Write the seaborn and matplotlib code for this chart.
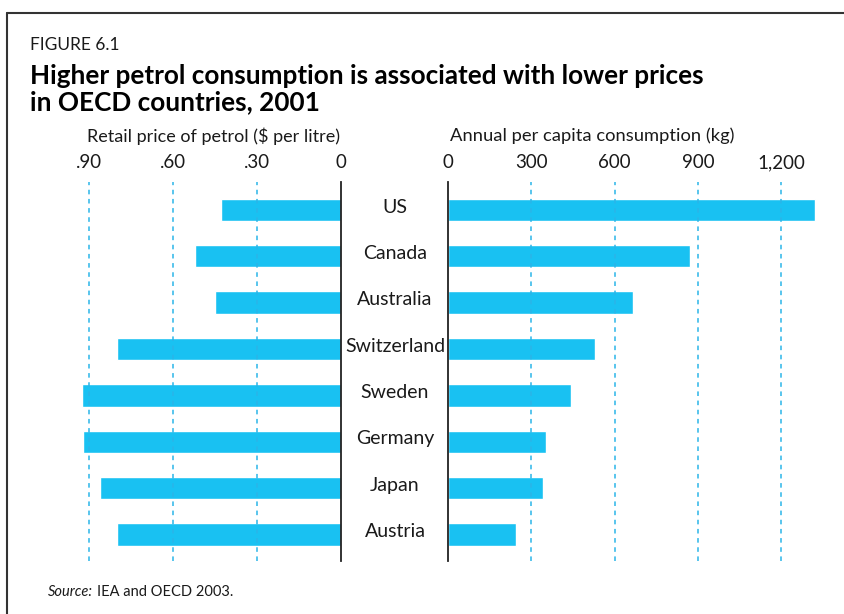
import pandas as pd
import matplotlib.pyplot as plt
import matplotlib.transforms as mtransforms
from matplotlib.lines import Line2D
import seaborn as sns

# ---- Données ----
countries = ["US", "Canada", "Australia", "Switzerland", "Sweden", "Germany", "Japan", "Austria"]
price = [0.43, 0.52, 0.45, 0.80, 0.925, 0.92, 0.86, 0.80]        # $ par litre
consumption = [1322, 871, 666, 529, 443, 353, 342, 245]            # kg par habitant
price_ticks = [0.90, 0.60, 0.30, 0]
price_labels = [".90", ".60", ".30", "0"]
cons_ticks = [0, 300, 600, 900, 1200]
cons_labels = ["0", "300", "600", "900", "1,200"]

df = pd.DataFrame({"country": countries, "price": price, "consumption": consumption})

sns.set_theme(style="white")
plt.rcParams["font.family"] = ["Lato", "DejaVu Sans"]

bar_color = "#19C1F2"
grid_color = "#2BB5E8"
text_color = "#1a1a1a"

fig = plt.figure(figsize=(8.44, 6.14), dpi=100)
W, H = 844, 614

def fx(px):
    return px / W

def fy(py):
    return 1 - py / H

top, bottom = 182, 561
ax_l = fig.add_axes([fx(80), fy(bottom), fx(341 - 80), (bottom - top) / H])
ax_r = fig.add_axes([fx(448), fy(bottom), fx(820 - 448), (bottom - top) / H])

sns.barplot(data=df, y="country", x="price", orient="h", color=bar_color,
            width=0.48, saturation=1, ax=ax_l, zorder=2)
sns.barplot(data=df, y="country", x="consumption", orient="h", color=bar_color,
            width=0.48, saturation=1, ax=ax_r, zorder=2)

ax_l.set_xlim(0.932, 0)
ax_r.set_xlim(0, 1340)

for ax, ticks, labels in [(ax_l, price_ticks, price_labels), (ax_r, cons_ticks, cons_labels)]:
    ax.set_ylim(7.57, -0.6)
    ax.set_xticks(ticks)
    ax.set_xticklabels(labels)
    ax.xaxis.tick_top()
    ax.tick_params(axis="x", length=0, pad=8, labelsize=13.5, labelcolor=text_color)
    ax.set_yticks([])
    ax.set_xlabel("")
    ax.set_ylabel("")
    for t in ticks:
        if t != 0:
            ax.axvline(t, color=grid_color, linewidth=1.1, linestyle=(0, (3, 3)), zorder=3)
    for s in ax.spines.values():
        s.set_visible(False)

ax_l.spines["right"].set_visible(True)
ax_l.spines["right"].set_color("#222222")
ax_l.spines["right"].set_linewidth(1.3)
ax_r.spines["left"].set_visible(True)
ax_r.spines["left"].set_color("#222222")
ax_r.spines["left"].set_linewidth(1.3)

# Noms des pays entre les deux panneaux
trans = mtransforms.blended_transform_factory(fig.transFigure, ax_r.transData)
for i, c in enumerate(countries):
    ax_r.text(fx(395), i - 0.06, c, transform=trans, ha="center", va="center",
              fontsize=14, color=text_color)

# Titres
fig.text(fx(30), fy(45), "FIGURE 6.1", fontsize=12.5, color=text_color, va="center")
fig.text(fx(30), fy(89), "Higher petrol consumption is associated with lower prices\nin OECD countries, 2001",
         fontsize=18.8, fontweight="bold", color="black", va="center", linespacing=1.12)
fig.text(fx(213), fy(136), "Retail price of petrol ($ per litre)", fontsize=13, color=text_color,
         ha="center", va="center")
fig.text(fx(450), fy(136), "Annual per capita consumption (kg)", fontsize=13.2, color=text_color,
         ha="left", va="center")
fig.text(fx(48), fy(592), "Source:", fontsize=10.5, style="italic", color=text_color, va="center")
fig.text(fx(97), fy(592), "IEA and OECD 2003.", fontsize=10.5, color=text_color, va="center")

# Cadre
fig.add_artist(Line2D([fx(7), 1], [fy(13), fy(13)], color="#333333", linewidth=1.5))
fig.add_artist(Line2D([fx(7), fx(7)], [fy(13), 0], color="#333333", linewidth=1.5))

plt.savefig("out.png", dpi=100)
plt.close()
